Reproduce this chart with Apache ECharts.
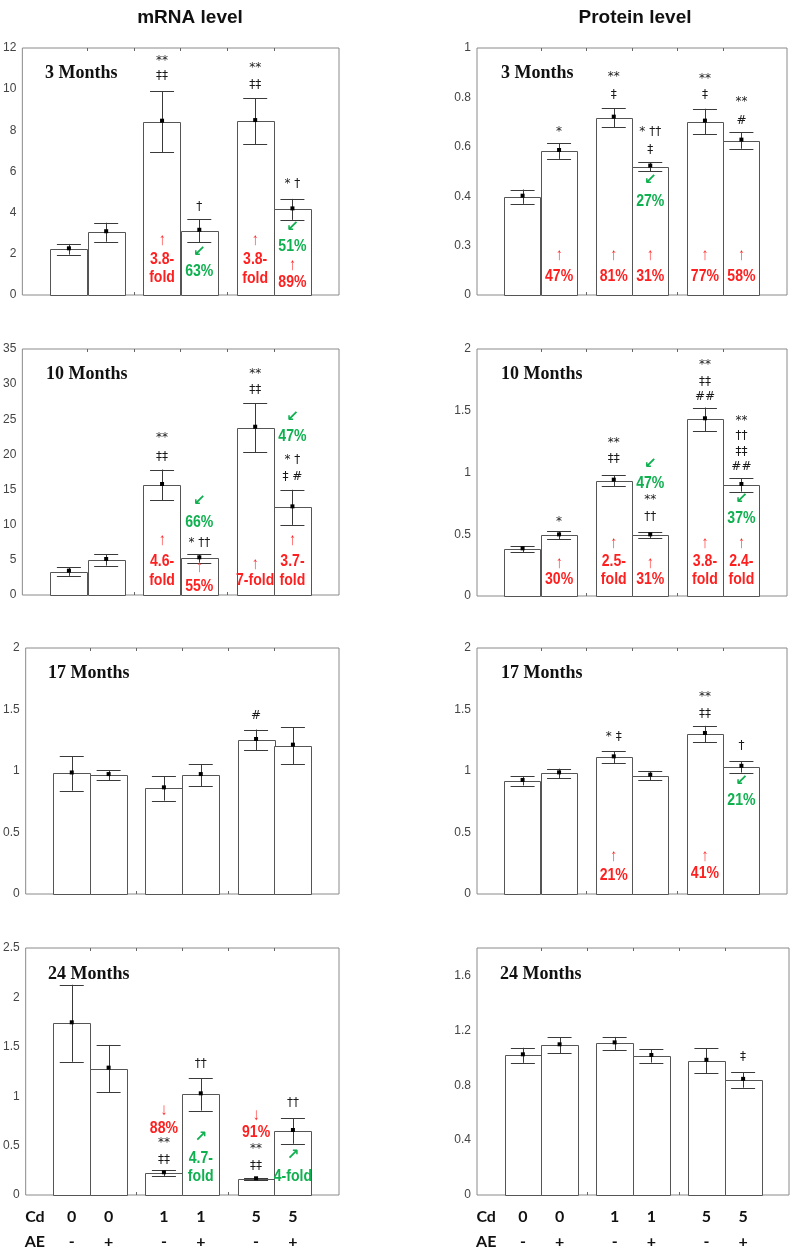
<!DOCTYPE html>
<html><head><meta charset="utf-8">
<script src="https://cdn.jsdelivr.net/npm/echarts@6/dist/echarts.min.js"></script>
<style>html,body{margin:0;padding:0;background:#fff}#c{width:799px;height:1254px}</style>
</head><body><div id="c"></div>
<script>
// ---------- data ----------
const barX = [1.0, 1.8, 3.0, 3.8, 5.0, 5.8];
const cdLabels = ['0', '0', '1', '1', '5', '5'];
const aeLabels = ['-', '+', '-', '+', '-', '+'];
const rowHeaders = ['Cd', 'AE'];
const columnTitles = ['mRNA level', 'Protein level'];
const panelTitles = ['3 Months', '10 Months', '17 Months', '24 Months'];

const mrna3Mean = [2.22, 3.05, 8.42, 3.12, 8.45, 4.16];
const mrna3Err = [0.26, 0.46, 1.48, 0.56, 1.12, 0.51];
const mrna10Mean = [3.32, 4.98, 15.65, 5.22, 23.8, 12.47];
const mrna10Err = [0.6, 0.8, 2.2, 0.6, 3.5, 2.5];
const mrna17Mean = [0.98, 0.967, 0.859, 0.967, 1.252, 1.206];
const mrna17Err = [0.14, 0.04, 0.1, 0.09, 0.085, 0.15];
const mrna24Mean = [1.738, 1.279, 0.22, 1.019, 0.159, 0.648];
const mrna24Err = [0.39, 0.24, 0.03, 0.165, 0.012, 0.13];

const prot3Mean = [0.398, 0.583, 0.718, 0.52, 0.702, 0.625];
const prot3Err = [0.029, 0.032, 0.038, 0.018, 0.052, 0.033];
const prot10Mean = [0.378, 0.491, 0.934, 0.491, 1.431, 0.899];
const prot10Err = [0.023, 0.033, 0.045, 0.024, 0.095, 0.054];
const prot17Mean = [0.919, 0.981, 1.111, 0.962, 1.301, 1.034];
const prot17Err = [0.037, 0.038, 0.048, 0.038, 0.066, 0.047];
const prot24Mean = [1.018, 1.091, 1.105, 1.013, 0.978, 0.839];
const prot24Err = [0.055, 0.057, 0.047, 0.048, 0.09, 0.057];

// tick labels
const prot3TickLabels = ['0', '0.3', '0.4', '0.6', '0.8', '1'];
const prot24TickValues = [0, 0.4, 0.8, 1.2, 1.6];

// annotations: [bar index, y (data units), text, kind]
const mrna3Notes = [
  [2, 11.37, '**', 'k'], [2, 10.64, '‡‡', 'k'], [2, 2.67, '↑', 'ra'], [2, 1.70, '3.8-', 'r'], [2, 0.83, 'fold', 'r'],
  [3, 4.28, '†', 'k'], [3, 2.09, '↙', 'ga'], [3, 1.12, '63%', 'g'],
  [4, 11.03, '**', 'k'], [4, 10.20, '‡‡', 'k'], [4, 2.67, '↑', 'ra'], [4, 1.70, '3.8-', 'r'], [4, 0.78, 'fold', 'r'],
  [5, 5.39, '* †', 'k'], [5, 3.30, '↙', 'ga'], [5, 2.33, '51%', 'g'], [5, 1.46, '↑', 'ra'], [5, 0.58, '89%', 'r']
];
const mrna10Notes = [
  [2, 22.3, '**', 'k'], [2, 19.7, '‡‡', 'k'], [2, 7.8, '↑', 'ra'], [2, 4.7, '4.6-', 'r'], [2, 2.1, 'fold', 'r'],
  [3, 13.3, '↙', 'ga'], [3, 10.3, '66%', 'g'], [3, 7.35, '* ††', 'k'], [3, 4.0, '↑', 'ra'], [3, 1.2, '55%', 'r'],
  [4, 31.5, '**', 'k'], [4, 29.2, '‡‡', 'k'], [4, 4.3, '↑', 'ra'], [4, 2.0, '7-fold', 'r'],
  [5, 25.3, '↙', 'ga'], [5, 22.5, '47%', 'g'], [5, 19.2, '* †', 'k'], [5, 16.8, '‡ #', 'k'], [5, 7.8, '↑', 'ra'], [5, 4.7, '3.7-', 'r'], [5, 2.1, 'fold', 'r']
];
const mrna17Notes = [
  [4, 1.45, '#', 'k']
];
const mrna24Notes = [
  [2, 0.86, '↓', 'ra'], [2, 0.675, '88%', 'r'], [2, 0.53, '**', 'k'], [2, 0.36, '‡‡', 'k'],
  [3, 1.326, '††', 'k'], [3, 0.59, '↗', 'ga'], [3, 0.37, '4.7-', 'g'], [3, 0.185, 'fold', 'g'],
  [4, 0.81, '↓', 'ra'], [4, 0.63, '91%', 'r'], [4, 0.465, '**', 'k'], [4, 0.29, '‡‡', 'k'],
  [5, 0.93, '††', 'k'], [5, 0.405, '↗', 'ga'], [5, 0.185, '4-fold', 'g']
];
const prot3Notes = [
  [1, 0.661, '*', 'k'], [1, 0.162, '↑', 'ra'], [1, 0.074, '47%', 'r'],
  [2, 0.884, '**', 'k'], [2, 0.812, '‡', 'k'], [2, 0.162, '↑', 'ra'], [2, 0.074, '81%', 'r'],
  [3, 0.661, '* ††', 'k'], [3, 0.587, '‡', 'k'], [3, 0.466, '↙', 'ga'], [3, 0.378, '27%', 'g'], [3, 0.162, '↑', 'ra'], [3, 0.074, '31%', 'r'],
  [4, 0.877, '**', 'k'], [4, 0.812, '‡', 'k'], [4, 0.162, '↑', 'ra'], [4, 0.074, '77%', 'r'],
  [5, 0.783, '**', 'k'], [5, 0.706, '#', 'k'], [5, 0.162, '↑', 'ra'], [5, 0.074, '58%', 'r']
];
const prot10Notes = [
  [1, 0.60, '*', 'k'], [1, 0.265, '↑', 'ra'], [1, 0.13, '30%', 'r'],
  [2, 1.236, '**', 'k'], [2, 1.107, '‡‡', 'k'], [2, 0.427, '↑', 'ra'], [2, 0.278, '2.5-', 'r'], [2, 0.135, 'fold', 'r'],
  [3, 1.069, '↙', 'ga'], [3, 0.907, '47%', 'g'], [3, 0.777, '**', 'k'], [3, 0.637, '††', 'k'], [3, 0.265, '↑', 'ra'], [3, 0.13, '31%', 'r'],
  [4, 1.87, '**', 'k'], [4, 1.735, '‡‡', 'k'], [4, 1.609, '##', 'k'], [4, 0.427, '↑', 'ra'], [4, 0.278, '3.8-', 'r'], [4, 0.135, 'fold', 'r'],
  [5, 1.417, '**', 'k'], [5, 1.296, '††', 'k'], [5, 1.169, '‡‡', 'k'], [5, 1.047, '##', 'k'], [5, 0.782, '↙', 'ga'], [5, 0.628, '37%', 'g'],
  [5, 0.427, '↑', 'ra'], [5, 0.278, '2.4-', 'r'], [5, 0.135, 'fold', 'r']
];
const prot17Notes = [
  [2, 1.274, '* ‡', 'k'], [2, 0.303, '↑', 'ra'], [2, 0.146, '21%', 'r'],
  [4, 1.604, '**', 'k'], [4, 1.461, '‡‡', 'k'], [4, 0.303, '↑', 'ra'], [4, 0.163, '41%', 'r'],
  [5, 1.206, '†', 'k'], [5, 0.919, '↙', 'ga'], [5, 0.756, '21%', 'g']
];
const prot24Notes = [
  [5, 1.009, '‡', 'k']
];

// ---------- layout / style ----------
const X_MIN = 0, X_MAX = 6.8, HALF_BAR = 0.4;
const tickPos = [1.4, 2.4, 3.4, 4.4, 5.4];
const bottomLabelPos = [0.2].concat(barX);

const panels = [
  {grid: {left: 22, top: 48, width: 317, height: 247}, mean: mrna3Mean, err: mrna3Err, notes: mrna3Notes, title: panelTitles[0], y: {max: 12, interval: 2}, tl: [40, 70]},
  {grid: {left: 22, top: 349, width: 317, height: 246}, mean: mrna10Mean, err: mrna10Err, notes: mrna10Notes, title: panelTitles[1], y: {max: 35, interval: 5}, tl: [41, 371]},
  {grid: {left: 25, top: 648, width: 314, height: 246}, mean: mrna17Mean, err: mrna17Err, notes: mrna17Notes, title: panelTitles[2], y: {max: 2, interval: 0.5}, tl: [43, 670]},
  {grid: {left: 25, top: 948, width: 314, height: 247}, mean: mrna24Mean, err: mrna24Err, notes: mrna24Notes, title: panelTitles[3], y: {max: 2.5, interval: 0.5}, tl: [43, 971], bottom: true},
  {grid: {left: 477, top: 48, width: 310, height: 247}, mean: prot3Mean, err: prot3Err, notes: prot3Notes, title: panelTitles[0], y: {max: 1, interval: 0.2, labels: prot3TickLabels}, tl: [496, 70]},
  {grid: {left: 477, top: 349, width: 310, height: 247}, mean: prot10Mean, err: prot10Err, notes: prot10Notes, title: panelTitles[1], y: {max: 2, interval: 0.5}, tl: [496, 371]},
  {grid: {left: 477, top: 648, width: 310, height: 246}, mean: prot17Mean, err: prot17Err, notes: prot17Notes, title: panelTitles[2], y: {max: 2, interval: 0.5}, tl: [496, 670]},
  {grid: {left: 477, top: 948, width: 312, height: 248}, mean: prot24Mean, err: prot24Err, notes: prot24Notes, title: panelTitles[3], y: {max: 1.8, custom: prot24TickValues}, tl: [495, 971], bottom: true}
];

const noteStyle = {
  k: {fill: '#1a1a1a', font: '12px "DejaVu Sans", sans-serif', sx: 1},
  r: {fill: '#ff1f1f', font: 'bold 16px "Liberation Sans", Arial, sans-serif', sx: 0.88},
  g: {fill: '#0fb04f', font: 'bold 16px "Liberation Sans", Arial, sans-serif', sx: 0.88},
  ra: {fill: '#ff1f1f', font: '17px "Liberation Sans", Arial, sans-serif', sx: 0.8},
  ga: {fill: '#0fb04f', font: 'bold 15px "DejaVu Sans", sans-serif', sx: 1}
};

const option = {
  animation: false,
  backgroundColor: '#fff',
  title: [],
  grid: [],
  xAxis: [],
  yAxis: [],
  series: []
};

option.title.push({text: columnTitles[0], left: 185, top: 3, textAlign: 'center',
  textStyle: {fontFamily: 'Liberation Sans, Arial, sans-serif', fontWeight: 'bold', fontSize: 19, color: '#111'}});
option.title.push({text: columnTitles[1], left: 630, top: 3, textAlign: 'center',
  textStyle: {fontFamily: 'Liberation Sans, Arial, sans-serif', fontWeight: 'bold', fontSize: 19, color: '#111'}});

panels.forEach((p, gi) => {
  option.grid.push(Object.assign({show: true, borderColor: '#8a8a8a', borderWidth: 1, backgroundColor: 'transparent'}, p.grid));
  option.title.push({text: p.title, left: p.tl[0], top: p.tl[1] - 11,
    textStyle: {fontFamily: 'Liberation Serif, Times New Roman, serif', fontWeight: 'bold', fontSize: 18, color: '#111'}});

  // bottom x axis
  const xb = {
    type: 'value', gridIndex: gi, min: X_MIN, max: X_MAX, position: 'bottom',
    splitLine: {show: false}, axisLine: {show: false},
    axisTick: {show: true, inside: true, length: 3, lineStyle: {color: '#666'}, customValues: tickPos},
    axisLabel: {show: false}
  };
  if (p.bottom) {
    xb.axisLabel = {
      show: true, customValues: bottomLabelPos, margin: 9, lineHeight: 25,
      fontFamily: 'Lato, "Open Sans", sans-serif', fontWeight: 'bold', fontSize: 16, color: '#111',
      formatter: function (v) {
        if (Math.abs(v - bottomLabelPos[0]) < 1e-6) return rowHeaders[0] + '\n' + rowHeaders[1];
        const i = barX.findIndex(b => Math.abs(b - v) < 1e-6);
        return i < 0 ? '' : cdLabels[i] + '\n' + aeLabels[i];
      }
    };
  }
  option.xAxis.push(xb);
  // top x axis (ticks only)
  option.xAxis.push({
    type: 'value', gridIndex: gi, min: X_MIN, max: X_MAX, position: 'top',
    splitLine: {show: false}, axisLine: {show: false}, axisLabel: {show: false},
    axisTick: {show: true, inside: true, length: 3, lineStyle: {color: '#666'}, customValues: tickPos}
  });

  const ya = {
    type: 'value', gridIndex: gi, min: 0, max: p.y.max,
    splitLine: {show: false}, axisLine: {show: false},
    axisTick: {show: false},
    axisLabel: {color: '#444', fontSize: 12, fontFamily: 'Liberation Sans, Arial, sans-serif', margin: 6}
  };
  if (p.y.interval) ya.interval = p.y.interval;
  if (p.y.labels) {
    const labs = p.y.labels, step = p.y.interval;
    ya.axisLabel.formatter = v => labs[Math.round(v / step)] ?? '';
  }
  if (p.y.custom) {
    ya.axisLabel.customValues = p.y.custom;
    ya.axisLabel.formatter = v => String(Math.round(v * 10) / 10);
  }
  option.yAxis.push(ya);

  // bars + error bars + mean dots
  option.series.push({
    type: 'custom', xAxisIndex: gi * 2, yAxisIndex: gi, silent: true,
    data: barX.map((x, i) => [x, p.mean[i], p.err[i]]),
    renderItem: function (params, api) {
      const x = api.value(0), v = api.value(1), e = api.value(2);
      const tl = api.coord([x - HALF_BAR, v]);
      const br = api.coord([x + HALF_BAR, 0]);
      const c = api.coord([x, v]);
      const hi = api.coord([x, v + e]);
      const lo = api.coord([x, v - e]);
      const cap = 12;
      const ls = {stroke: '#3a3a3a', lineWidth: 1};
      return {type: 'group', children: [
        {type: 'rect', shape: {x: Math.round(tl[0]) + 0.5, y: Math.round(tl[1]) + 0.5, width: Math.round(br[0] - tl[0]), height: Math.round(br[1] - tl[1])},
          style: {fill: '#fff', stroke: '#555', lineWidth: 1}},
        {type: 'line', shape: {x1: Math.round(c[0]) + 0.5, y1: hi[1], x2: Math.round(c[0]) + 0.5, y2: lo[1]}, style: ls},
        {type: 'line', shape: {x1: c[0] - cap, y1: Math.round(hi[1]) + 0.5, x2: c[0] + cap, y2: Math.round(hi[1]) + 0.5}, style: ls},
        {type: 'line', shape: {x1: c[0] - cap, y1: Math.round(lo[1]) + 0.5, x2: c[0] + cap, y2: Math.round(lo[1]) + 0.5}, style: ls},
        {type: 'rect', shape: {x: c[0] - 2, y: c[1] - 3, width: 4, height: 4}, style: {fill: '#000'}}
      ]};
    }
  });

  // annotations
  const notes = p.notes;
  option.series.push({
    type: 'custom', xAxisIndex: gi * 2, yAxisIndex: gi, silent: true, z: 5,
    data: notes.map(n => [barX[n[0]], n[1]]),
    renderItem: function (params, api) {
      const n = notes[params.dataIndex];
      const pt = api.coord([api.value(0), api.value(1)]);
      const st = noteStyle[n[3]];
      return {type: 'text', x: pt[0], y: pt[1], scaleX: st.sx,
        style: {text: n[2], fill: st.fill, font: st.font, align: 'center', verticalAlign: 'middle', textAlign: 'center', textVerticalAlign: 'middle'}};
    }
  });
});

const chart = echarts.init(document.getElementById('c'), null, {renderer: 'canvas'});
chart.setOption(option);
</script>
</body></html>
